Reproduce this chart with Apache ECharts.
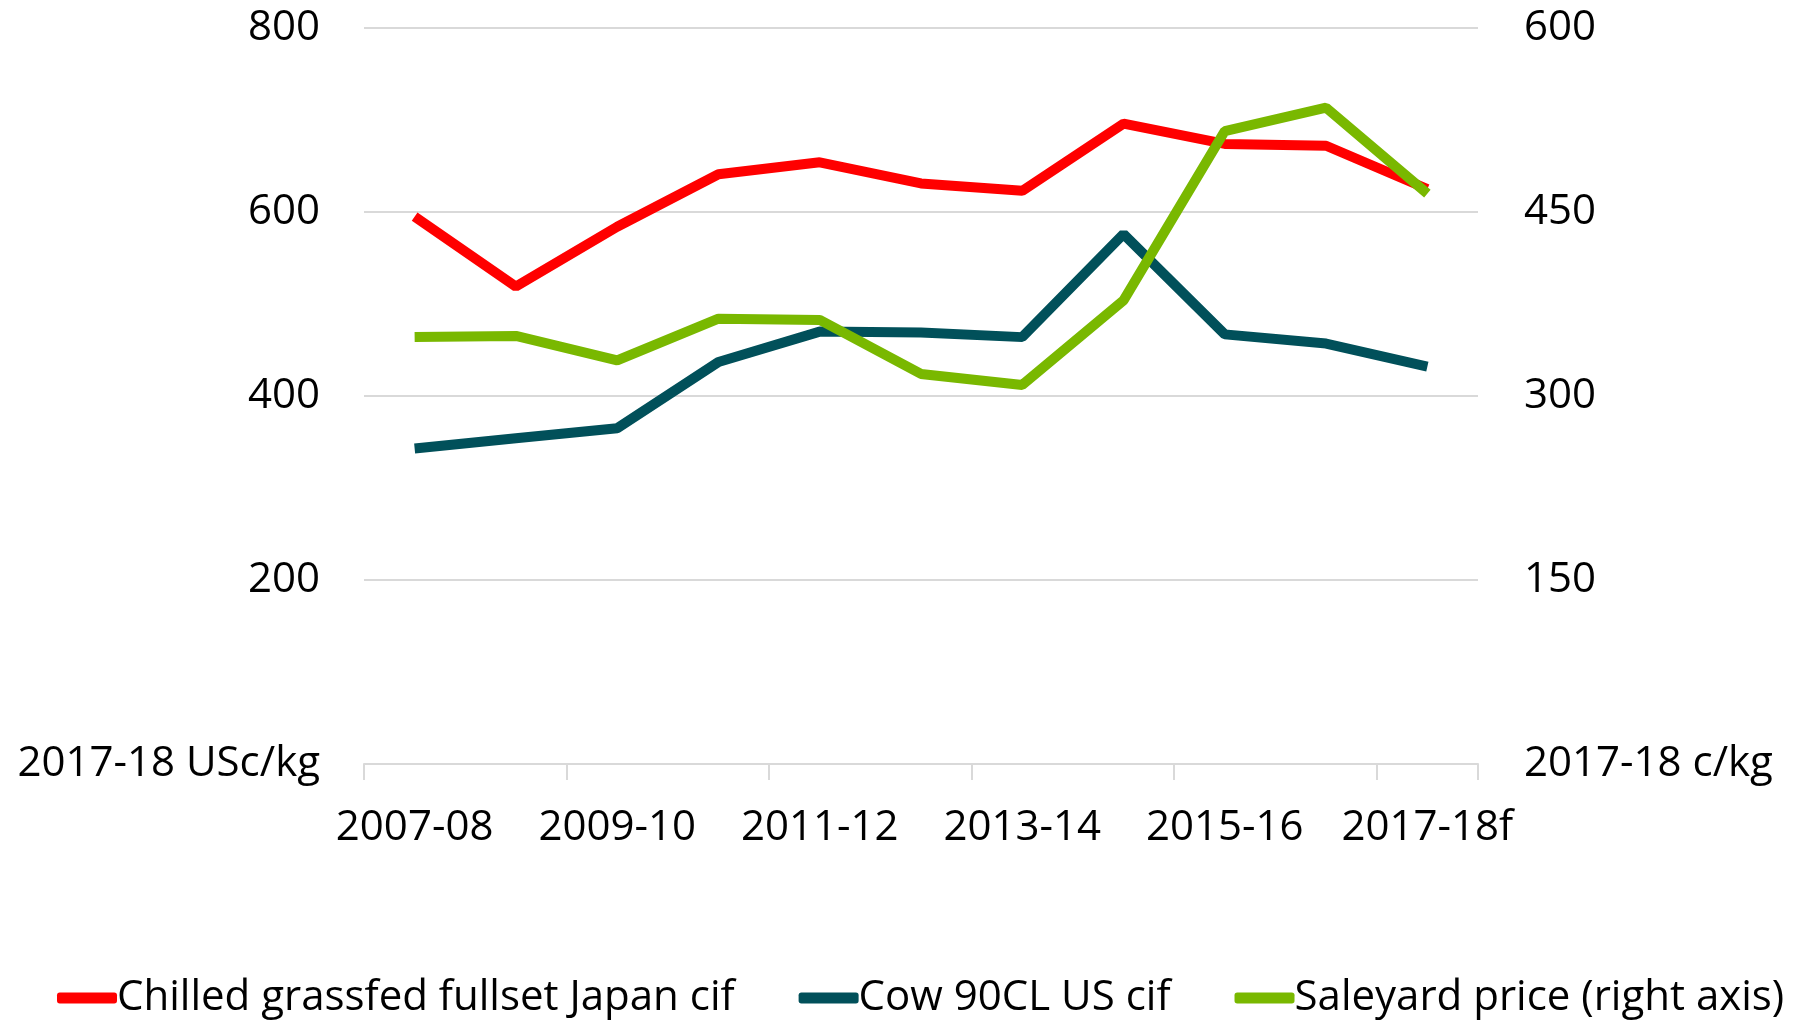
<!DOCTYPE html>
<html>
<head>
<meta charset="utf-8">
<script src="https://cdn.jsdelivr.net/npm/echarts@6/dist/echarts.min.js"></script>
<style>
  html, body { margin: 0; padding: 0; background: #fff; }
  #chart { width: 1802px; height: 1022px; }
</style>
</head>
<body>
<div id="chart"></div>
<script>
    // 数据
    var years = ['2007-08', '2008-09', '2009-10', '2010-11', '2011-12', '2012-13', '2013-14', '2014-15', '2015-16', '2016-17', '2017-18f'];
    var japanCif = [595, 519, 584, 641, 654, 631, 623, 696, 674, 672, 625];
    var usCif = [343, 354, 365, 437, 470, 469, 464, 576, 467, 457, 432];
    var saleyard = [348, 349, 329, 363, 362, 318, 309, 378, 516, 535, 465];

    var leftTicks = { min: 0, max: 800, interval: 200, unit: '2017-18 USc/kg' };
    var rightTicks = { min: 0, max: 600, interval: 150, unit: '2017-18 c/kg' };

    var font = '"Open Sans", sans-serif';
    var fs = 42;
    var chart = echarts.init(document.getElementById('chart'));

    chart.setOption({
        animation: false,
        grid: {
            left: 364,
            right: 324,
            top: 28,
            bottom: 258
        },
        legend: {
            left: 52,
            top: 972,
            icon: 'roundRect',
            itemWidth: 60,
            itemHeight: 11,
            itemGap: 64,
            textStyle: {
                fontFamily: font,
                fontSize: fs,
                color: '#000',
                padding: [0, 0, 0, -5]
            },
            data: ['Chilled grassfed fullset Japan cif', 'Cow 90CL US cif', 'Saleyard price (right axis)']
        },
        xAxis: {
            type: 'category',
            data: years,
            boundaryGap: true,
            axisLine: { lineStyle: { color: '#d9d9d9', width: 2 } },
            axisTick: { show: true, length: 16, lineStyle: { color: '#d9d9d9', width: 2 } },
            axisLabel: {
                interval: 1,
                margin: 43,
                fontFamily: font,
                fontSize: fs,
                color: '#000'
            }
        },
        yAxis: [
            {
                type: 'value',
                min: leftTicks.min,
                max: leftTicks.max,
                interval: leftTicks.interval,
                axisLine: { show: false },
                axisTick: { show: false },
                splitLine: { lineStyle: { color: '#d9d9d9', width: 2 } },
                axisLabel: {
                    margin: 44,
                    fontFamily: font,
                    fontSize: fs,
                    color: '#000',
                    formatter: function (v) { return v === 0 ? leftTicks.unit : v; }
                }
            },
            {
                type: 'value',
                min: rightTicks.min,
                max: rightTicks.max,
                interval: rightTicks.interval,
                axisLine: { show: false },
                axisTick: { show: false },
                splitLine: { show: false },
                axisLabel: {
                    margin: 46,
                    fontFamily: font,
                    fontSize: fs,
                    color: '#000',
                    formatter: function (v) { return v === 0 ? rightTicks.unit : v; }
                }
            }
        ],
        series: [
            {
                name: 'Chilled grassfed fullset Japan cif',
                type: 'line',
                data: japanCif,
                yAxisIndex: 0,
                showSymbol: false,
                symbol: 'none',
                itemStyle: { color: '#ff0000' },
                lineStyle: { color: '#ff0000', width: 10 }
            },
            {
                name: 'Cow 90CL US cif',
                type: 'line',
                data: usCif,
                yAxisIndex: 0,
                showSymbol: false,
                symbol: 'none',
                itemStyle: { color: '#01505a' },
                lineStyle: { color: '#01505a', width: 10 }
            },
            {
                name: 'Saleyard price (right axis)',
                type: 'line',
                data: saleyard,
                yAxisIndex: 1,
                showSymbol: false,
                symbol: 'none',
                itemStyle: { color: '#79b800' },
                lineStyle: { color: '#79b800', width: 10 }
            }
        ]
    });
</script>
</body>
</html>
